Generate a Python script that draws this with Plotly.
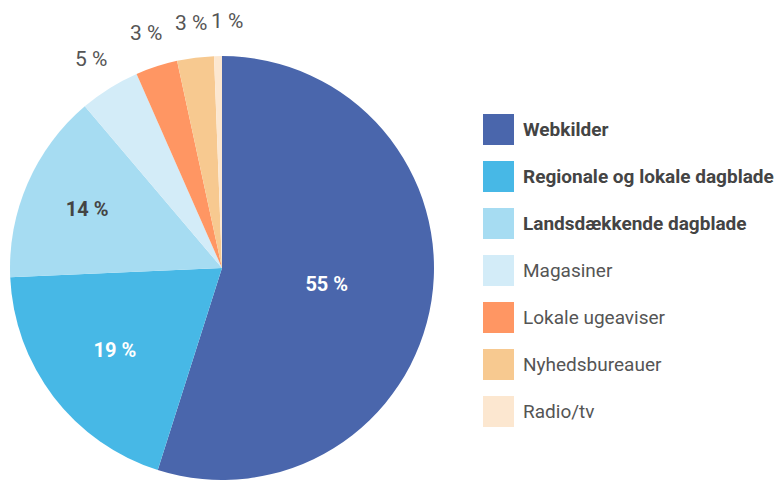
import math
import plotly.graph_objects as go

# ---- data ----
categories = ["Webkilder", "Regionale og lokale dagblade", "Landsdækkende dagblade",
              "Magasiner", "Lokale ugeaviser", "Nyhedsbureauer", "Radio/tv"]
shares = [54.9, 19.4, 14.5, 4.6, 3.2, 2.8, 0.6]
share_labels = ["55 %", "19 %", "14 %", "5 %", "3 %", "3 %", "1 %"]
colors = ["#4A66AC", "#47B8E6", "#A6DCF2", "#D3ECF8", "#FF9663", "#F7C990", "#FCE7D0"]
bold_legend = [True, True, True, False, False, False, False]

W, H = 781, 480
FONT = "Roboto, Liberation Sans, sans-serif"
DARK = "#444444"
GREY = "#555555"

# pie geometry (pixels)
cx, cy, r = 222, 268, 212

inside = [True, True, True, False, False, False, False]
text_colors = ["white", "white", DARK, GREY, GREY, GREY, GREY]
texts = [f"<b>{t}</b>" if ins else "" for t, ins in zip(share_labels, inside)]

fig = go.Figure(go.Pie(
    labels=categories, values=shares, sort=False, direction="clockwise", rotation=0,
    marker=dict(colors=colors, line=dict(width=0)),
    text=texts, textinfo="text", textposition=["inside" if i else "none" for i in inside],
    insidetextorientation="horizontal",
    insidetextfont=dict(family=FONT, size=20, color=text_colors),
    domain=dict(x=[(cx - r) / W, (cx + r) / W], y=[(H - cy - r) / H, (H - cy + r) / H]),
    showlegend=False, hoverinfo="label+percent",
))

annotations = []
shapes = []
total = sum(shares)
cum = 0
prev_x = None
min_gap = 36
for val, lab, ins in zip(shares, share_labels, inside):
    mid = (cum + val / 2) / total * 2 * math.pi
    cum += val
    if ins:
        continue
    R = r * 1.165
    px = cx + R * math.sin(mid)
    py = cy - R * math.cos(mid)
    if prev_x is not None and px - prev_x < min_gap:
        px = prev_x + min_gap
    prev_x = px
    annotations.append(dict(x=px / W, y=1 - py / H, xref="paper", yref="paper",
                            text=lab, showarrow=False, xanchor="center", yanchor="middle",
                            font=dict(family=FONT, size=21, color=GREY)))

lx0, lsz, ly0, lstep = 483, 31, 129.5, 47
for i, (cat, col, b) in enumerate(zip(categories, colors, bold_legend)):
    yc = ly0 + i * lstep
    shapes.append(dict(type="rect", xref="paper", yref="paper",
                       x0=lx0 / W, x1=(lx0 + lsz) / W,
                       y0=1 - (yc + lsz / 2) / H, y1=1 - (yc - lsz / 2) / H,
                       fillcolor=col, line=dict(width=0)))
    annotations.append(dict(x=521 / W, y=1 - yc / H, xref="paper", yref="paper",
                            text=f"<b>{cat}</b>" if b else cat, showarrow=False,
                            xanchor="left", yanchor="middle",
                            font=dict(family=FONT, size=19, color=DARK if b else GREY)))

fig.update_layout(width=W, height=H, margin=dict(l=0, r=0, t=0, b=0),
                  paper_bgcolor="white", plot_bgcolor="white",
                  annotations=annotations, shapes=shapes)

post = "document.body.style.margin='0px';"
fig.write_html("out.html", post_script=post, config={"displayModeBar": False})
